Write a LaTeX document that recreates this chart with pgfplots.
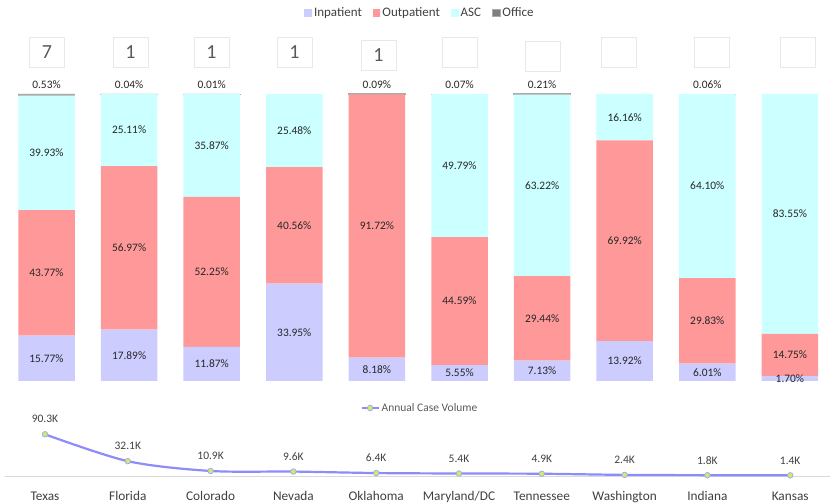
\documentclass[border=0pt]{standalone}
\usepackage{pgfplots}
\usepackage{pgfplotstable}
\pgfplotsset{compat=1.18}
\usepackage{fontspec}
\setmainfont{Carlito}

\definecolor{inpat}{RGB}{204,204,255}
\definecolor{outpat}{RGB}{255,153,153}
\definecolor{asc}{RGB}{204,255,255}
\definecolor{office}{RGB}{127,127,127}
\definecolor{officeedge}{RGB}{170,170,170}
\definecolor{volline}{RGB}{140,140,250}
\definecolor{voldot}{RGB}{204,238,102}
\definecolor{labeltext}{RGB}{38,38,38}
\definecolor{ticktext}{RGB}{64,64,64}
\definecolor{legtext}{RGB}{89,89,89}
\definecolor{boxedge}{RGB}{232,232,232}
\definecolor{axisline}{RGB}{217,217,217}

% share of cases by setting, in percent (nan: no office cases)
\pgfplotstableread{
i  in     out    asc    off
0  15.77  43.77  39.93  0.53
1  17.89  56.97  25.11  0.04
2  11.87  52.25  35.87  0.01
3  33.95  40.56  25.48  nan
4  8.18   91.72  0      0.09
5  5.55   44.59  49.79  0.07
6  7.13   29.44  63.22  0.21
7  13.92  69.92  16.16  nan
8  6.01   29.83  64.10  0.06
9  1.70   14.75  83.55  nan
}\mixtable

% annual case volume, in thousands
\pgfplotstableread{
i  v
0  90.3
1  32.1
2  10.9
3  9.6
4  6.4
5  5.4
6  4.9
7  2.4
8  1.8
9  1.4
}\voltable

\pgfplotsset{
  /pgf/number format/assume math mode=true,
  pct label/.style={
    draw=none, forget plot,
    nodes near coords={\pgfmathparse{\val>0.001}\ifdim\pgfmathresult pt>0.5pt\pgfmathprintnumber[fixed,fixed zerofill,precision=2]{\val}\%\fi},
    every node near coord/.style={anchor=center, inner sep=0pt,
      font=\fontsize{11.4bp}{13bp}\selectfont, text=labeltext},
  },
  mix geometry/.style={
    at={(46.5bp,122bp)}, anchor=origin,
    x=82.6bp, y=2.87bp,
    xmin=-0.502, xmax=9.485, ymin=0, ymax=100,
    axis lines=none, clip=false,
  },
}

\begin{document}
\begin{tikzpicture}
\path[use as bounding box] (0,0) rectangle (830bp,503bp);

% ---------------- setting mix (100% stacked) ----------------
\begin{axis}[
  mix geometry,
  ybar stacked, bar width=56.5bp,
  legend image code/.code={\fill[#1] (0bp,-3.8bp) rectangle (7.6bp,3.8bp);},
  legend columns=4,
  legend style={at={(0.503,1.2822)}, anchor=center, draw=none, fill=none,
    font=\fontsize{13bp}{15bp}\selectfont, text=ticktext,
    /tikz/every odd column/.style={column sep=0bp},
    /tikz/every even column/.style={column sep=9bp}},
]
\addplot[fill=inpat, draw=none] table[x=i, y=in] {\mixtable};
\addlegendentry{Inpatient}
\addplot[fill=outpat, draw=none] table[x=i, y=out] {\mixtable};
\addlegendentry{Outpatient}
\addplot[fill=asc, draw=none] table[x=i, y=asc] {\mixtable};
\addlegendentry{ASC}
\addplot[fill=office, draw=officeedge, line width=0.9bp] table[x=i, y=off] {\mixtable};
\addlegendentry{Office}
\end{axis}

% ---------------- percentage labels ----------------
\begin{axis}[mix geometry]
\addplot[pct label, visualization depends on={\thisrow{in} \as \val}]
  table[x=i, y expr=\thisrow{in}/2] {\mixtable};
\addplot[pct label, visualization depends on={\thisrow{out} \as \val}]
  table[x=i, y expr=\thisrow{in}+\thisrow{out}/2] {\mixtable};
\addplot[pct label, visualization depends on={\thisrow{asc} \as \val}]
  table[x=i, y expr=\thisrow{in}+\thisrow{out}+\thisrow{asc}/2] {\mixtable};
% office shares are printed just above the bar top
\addplot[pct label, visualization depends on={\thisrow{off} \as \val}]
  table[x=i, y expr=\thisrow{in}+\thisrow{out}+\thisrow{asc}+\thisrow{off}+3.1] {\mixtable};
\end{axis}

% ---------------- annual case volume ----------------
\begin{axis}[
  at={(45bp,27bp)}, anchor=origin,
  x=82.8bp, y=0.4618bp,
  xmin=-0.483, xmax=9.48, ymin=0, ymax=100,
  axis x line=bottom, axis y line=none, ytick=\empty,
  x axis line style={-, draw=axisline, line width=0.8bp},
  xtick={0,...,9},
  xticklabels={Texas,Florida,Colorado,Nevada,Oklahoma,Maryland/DC,Tennessee,Washington,Indiana,Kansas},
  major tick length=0pt,
  xticklabel style={font=\fontsize{13.3bp}{15bp}\selectfont, text=ticktext, yshift=-12bp},
  clip=false,
  legend style={at={(0.503,1.4725)}, anchor=center, draw=none, fill=none,
    font=\fontsize{11.5bp}{13bp}\selectfont, text=legtext},
]
\addplot[smooth, color=volline, line width=2.2bp,
  mark=*, mark size=2.8bp,
  mark options={fill=voldot, draw=volline!80, line width=0.7bp, solid}]
  table[x=i, y=v] {\voltable};
\addlegendentry{Annual Case Volume}
% value labels, 15bp above each point
\addplot[draw=none, forget plot, point meta=\thisrow{v},
  nodes near coords={\pgfmathprintnumber[fixed,fixed zerofill,precision=1]{\pgfplotspointmeta}K},
  every node near coord/.style={anchor=center, inner sep=0pt,
    font=\fontsize{11.5bp}{13bp}\selectfont, text=ticktext}]
  table[x=i, y expr=\thisrow{v}+32.5] {\voltable};
\end{axis}

% ---------------- count boxes above the bars ----------------
\begin{axis}[
  at={(0,0)}, anchor=origin, x=1bp, y=1bp,
  xmin=0, xmax=830, ymin=0, ymax=503,
  axis lines=none, clip=false,
]
\addplot[draw=none, forget plot, point meta=explicit symbolic, nodes near coords,
  every node near coord/.style={anchor=center, draw=boxedge, line width=0.6bp,
    minimum width=35bp, minimum height=30bp, inner sep=0pt,
    font=\fontsize{20bp}{20bp}\selectfont, text=legtext}] coordinates
  {(47,451) [7] (130.5,451) [1] (211.5,451) [1] (294.5,451) [1] (378.5,448) [1]
   (459.5,451) [{}] (542.5,447) [{}] (619,451) [{}] (711.5,451) [{}] (797.5,451) [{}]};
\end{axis}
\end{tikzpicture}
\end{document}
